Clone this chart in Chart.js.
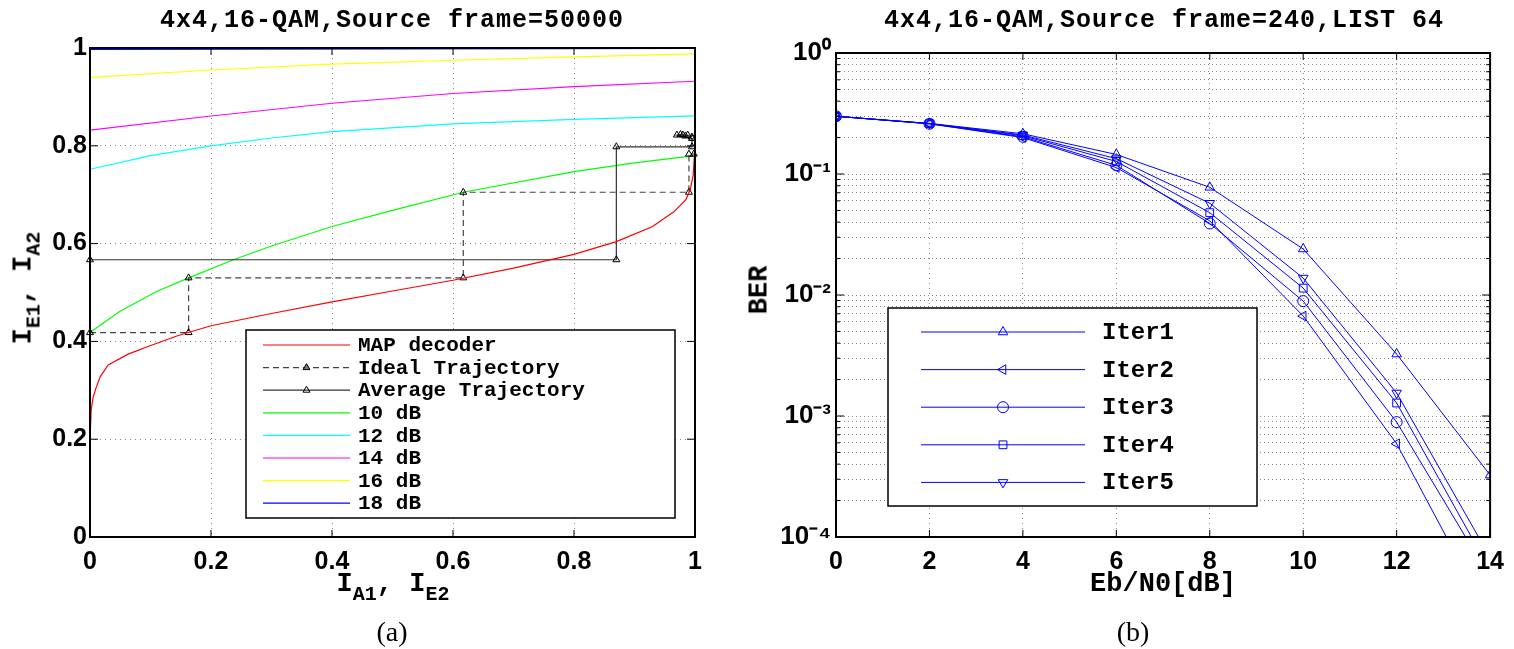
<!DOCTYPE html>
<html>
<head>
<meta charset="utf-8">
<script src="https://cdn.jsdelivr.net/npm/chart.js@4.4.1/dist/chart.umd.min.js"></script>
<style>
  body { margin: 0; background: #fff; width: 1514px; height: 649px; position: relative; overflow: hidden; }
  .wrap { position: absolute; top: 0; width: 757px; height: 600px; }
  .lbl { position: absolute; font-family: 'Liberation Mono', 'DejaVu Sans Mono', monospace; font-weight: bold; color: #000; white-space: nowrap; line-height: 1; }
  .lbl sub { font-size: 20px; vertical-align: -9px; line-height: 0; }
  .title { font-size: 25px; letter-spacing: 1px; transform: translate(-50%, -50%); }
  .axis { font-size: 27px; transform: translate(-50%, -50%); }
  .caption { position: absolute; font-family: 'Liberation Serif', 'DejaVu Serif', serif; font-size: 28px; color: #000; transform: translate(-50%, -50%); }
</style>
</head>
<body>
<div class="wrap" style="left:0"><canvas id="exitChart"></canvas></div>
<div class="wrap" style="left:757px"><canvas id="berChart"></canvas></div>

<div class="lbl title" style="left:392px;top:20px">4x4,16-QAM,Source frame=50000</div>
<div class="lbl title" style="left:1164px;top:20px">4x4,16-QAM,Source frame=240,LIST 64</div>
<div class="lbl axis" style="left:393px;top:584px">I<sub>A1</sub>, I<sub>E2</sub></div>
<div class="lbl axis" style="left:24px;top:288px;transform:translate(-50%,-50%) rotate(-90deg)">I<sub>E1</sub>, I<sub>A2</sub></div>
<div class="lbl axis" style="left:1163px;top:584px">Eb/N0[dB]</div>
<div class="lbl axis" style="left:760px;top:290px;transform:translate(-50%,-50%) rotate(-90deg)">BER</div>
<div class="caption" style="left:392px;top:632px">(a)</div>
<div class="caption" style="left:1133px;top:632px">(b)</div>

<script>
// ---- (a) EXIT chart, points read as [I_A1, I_E1] ----
const exitTicks = [0, 0.2, 0.4, 0.6, 0.8, 1];
const mapDecoder = [[0, 0], [0, 0.2], [0.002, 0.26], [0.005, 0.285], [0.01, 0.305], [0.017, 0.328],
  [0.03, 0.352], [0.063, 0.374], [0.097, 0.39], [0.146, 0.412], [0.2, 0.432], [0.3, 0.457],
  [0.4, 0.481], [0.5, 0.503], [0.6, 0.525], [0.7, 0.55], [0.8, 0.578], [0.87, 0.604], [0.93, 0.635],
  [0.965, 0.665], [0.985, 0.69], [0.992, 0.71], [0.997, 0.74], [0.999, 0.78], [1, 0.85], [1, 1]];
const snr10 = [[0, 0.418], [0.049, 0.461], [0.11, 0.502], [0.163, 0.53], [0.237, 0.567], [0.3, 0.595],
  [0.4, 0.635], [0.5, 0.668], [0.617, 0.705], [0.8, 0.747], [0.9, 0.765], [1, 0.78]];
const snr12 = [[0, 0.752], [0.1, 0.78], [0.2, 0.8], [0.3, 0.816], [0.4, 0.829], [0.6, 0.845], [0.8, 0.854], [1, 0.861]];
const snr14 = [[0, 0.832], [0.2, 0.861], [0.4, 0.887], [0.6, 0.907], [0.8, 0.921], [1, 0.932]];
const snr16 = [[0, 0.94], [0.2, 0.955], [0.4, 0.967], [0.6, 0.975], [0.8, 0.982], [1, 0.988]];
const snr18 = [[0, 0.997], [0.5, 0.998], [1, 0.999]];
const idealTrajectory = [[0, 0.418], [0.163, 0.418], [0.163, 0.53], [0.617, 0.53], [0.617, 0.705],
  [0.99, 0.705], [0.99, 0.783], [0.998, 0.783]];
const averageTrajectory = [[0, 0.567], [0.87, 0.567], [0.87, 0.798], [0.995, 0.798], [0.995, 0.815],
  [0.97, 0.822], [0.976, 0.823], [0.98, 0.822], [0.984, 0.82], [0.988, 0.822], [0.995, 0.818]];

// ---- (b) BER vs Eb/N0 ----
const ebn0 = [0, 2, 4, 6, 8, 10, 12, 14];
const iter1 = [0.30, 0.262, 0.215, 0.145, 0.0776, 0.024, 0.00325, 0.000325];
const iter2 = [0.30, 0.26, 0.200, 0.113, 0.041, 0.0067, 0.00059, 0.000021];
const iter3 = [0.30, 0.26, 0.203, 0.118, 0.039, 0.0089, 0.00089, 0.000046];
const iter4 = [0.30, 0.261, 0.207, 0.127, 0.0479, 0.0114, 0.00128, 0.000053];
const iter5 = [0.30, 0.261, 0.21, 0.134, 0.0573, 0.0138, 0.00155, 0.000068];
const ebn0Ticks = [0, 2, 4, 6, 8, 10, 12, 14];
const berTicks = [1e-4, 1e-3, 1e-2, 1e-1, 1];
const berTickLabels = ['10⁻⁴', '10⁻³', '10⁻²', '10⁻¹', '10⁰'];

const tickFont = { family: "'Liberation Sans', Arial, sans-serif", size: 25, weight: 'bold' };
const monoFont = "bold 21px 'Liberation Mono', monospace";

function toXY(points) {
  return points.map(p => ({ x: p[0], y: p[1] }));
}

function drawMarker(ctx, style, rotation, x, y, r) {
  ctx.beginPath();
  if (style === 'circle') {
    ctx.arc(x, y, r, 0, Math.PI * 2);
  } else if (style === 'rect') {
    const s = r * Math.SQRT1_2;
    ctx.rect(x - s, y - s, 2 * s, 2 * s);
  } else {
    let rad = (rotation || 0) * Math.PI / 180;
    for (let k = 0; k < 3; k++) {
      const px = x + Math.sin(rad) * r, py = y - Math.cos(rad) * r;
      k ? ctx.lineTo(px, py) : ctx.moveTo(px, py);
      rad += Math.PI * 2 / 3;
    }
    ctx.closePath();
  }
  ctx.fill();
  ctx.stroke();
}

// box with inward ticks like matlab, then legend inside the axes
const frame = {
  id: 'frame',
  afterDatasetsDraw(chart) {
    const { ctx, chartArea: a, scales } = chart;
    ctx.save();
    ctx.strokeStyle = '#000';
    ctx.lineWidth = 1;
    scales.x.ticks.forEach((t, i) => {
      const px = scales.x.getPixelForTick(i);
      ctx.beginPath();
      ctx.moveTo(px, a.bottom); ctx.lineTo(px, a.bottom - 7);
      ctx.moveTo(px, a.top); ctx.lineTo(px, a.top + 7);
      ctx.stroke();
    });
    scales.y.ticks.forEach((t, i) => {
      const py = scales.y.getPixelForTick(i);
      const len = t.major === false ? 4 : 8;
      ctx.beginPath();
      ctx.moveTo(a.left, py); ctx.lineTo(a.left + len, py);
      ctx.moveTo(a.right, py); ctx.lineTo(a.right - len, py);
      ctx.stroke();
    });
    ctx.lineWidth = 2;
    ctx.strokeRect(a.left, a.top, a.right - a.left, a.bottom - a.top);
    ctx.restore();
  },
  afterDraw(chart, args, opts) {
    const { ctx, chartArea: a } = chart;
    const lg = opts.legend;
    if (!lg) return;
    const x0 = a.left + lg.left;
    ctx.save();
    ctx.fillStyle = '#fff';
    ctx.fillRect(x0, lg.top, lg.width, lg.height);
    ctx.strokeStyle = '#000';
    ctx.lineWidth = 1.5;
    ctx.strokeRect(x0, lg.top, lg.width, lg.height);
    ctx.font = lg.font;
    ctx.textBaseline = 'middle';
    chart.data.datasets.forEach((ds, i) => {
      const y = lg.firstRow + i * lg.rowStep;
      ctx.strokeStyle = ds.borderColor;
      ctx.lineWidth = ds.borderWidth;
      ctx.setLineDash(ds.borderDash || []);
      ctx.beginPath();
      ctx.moveTo(x0 + lg.lineStart, y);
      ctx.lineTo(x0 + lg.lineEnd, y);
      ctx.stroke();
      ctx.setLineDash([]);
      if (ds.pointRadius > 0) {
        ctx.lineWidth = 1;
        ctx.fillStyle = ds.legendFill || 'rgba(0,0,0,0)';
        ctx.strokeStyle = ds.pointBorderColor || ds.borderColor;
        drawMarker(ctx, ds.pointStyle, ds.pointRotation, x0 + (lg.lineStart + lg.lineEnd) / 2, y, ds.pointRadius);
      }
      ctx.fillStyle = '#000';
      ctx.fillText(ds.label, x0 + lg.textX, y + 1);
    });
    ctx.restore();
  }
};

Chart.register(frame);

function curve(label, points, color) {
  return { label, data: toXY(points), borderColor: color, backgroundColor: color, borderWidth: 1.2, pointRadius: 0, showLine: true, clip: false };
}

function trajectory(label, points, color, dash, fill) {
  return {
    label, data: toXY(points), borderColor: color, borderWidth: 1.2, borderDash: dash, showLine: true, clip: false,
    pointStyle: 'triangle', pointRadius: 4, pointBorderColor: '#000', pointBackgroundColor: 'rgba(255,255,255,0)',
    pointBorderWidth: 1, legendFill: fill
  };
}

new Chart(document.getElementById('exitChart'), {
  type: 'scatter',
  data: {
    datasets: [
      curve('MAP decoder', mapDecoder, '#ff0000'),
      trajectory('Ideal Trajectory', idealTrajectory, '#444', [6, 4], '#777'),
      trajectory('Average Trajectory', averageTrajectory, '#333', [], null),
      curve('10 dB', snr10, '#00ff00'),
      curve('12 dB', snr12, '#00ffff'),
      curve('14 dB', snr14, '#ff00ff'),
      curve('16 dB', snr16, '#ffff00'),
      curve('18 dB', snr18, '#0000ff')
    ]
  },
  options: {
    responsive: true,
    maintainAspectRatio: false,
    animation: false,
    layout: { padding: { top: 48, right: 62, left: 0, bottom: 0 } },
    plugins: {
      legend: { display: false },
      tooltip: { enabled: false },
      frame: { legend: { left: 156, top: 330, width: 429, height: 188, firstRow: 345, rowStep: 22.6,
        lineStart: 17, lineEnd: 104, textX: 112, font: monoFont } }
    },
    scales: {
      x: {
        type: 'linear', min: 0, max: 1,
        afterBuildTicks: s => { s.ticks = exitTicks.map(v => ({ value: v })); },
        afterFit: s => { s.height = 63; },
        ticks: { font: tickFont, color: '#000', padding: 10, maxRotation: 0, autoSkip: false, callback: v => String(v) },
        grid: { color: '#888', drawTicks: false },
        border: { display: false, dash: [1, 4] }
      },
      y: {
        type: 'linear', min: 0, max: 1,
        afterBuildTicks: s => { s.ticks = exitTicks.map(v => ({ value: v })); },
        afterFit: s => { s.width = 90; },
        ticks: { font: tickFont, color: '#000', padding: 3, autoSkip: false, callback: v => String(v) },
        grid: { color: '#888', drawTicks: false },
        border: { display: false, dash: [1, 4] }
      }
    }
  }
});

function iterSet(label, values, style, rotation) {
  return {
    label, data: ebn0.map((x, i) => ({ x, y: values[i] })),
    borderColor: '#0000ff', borderWidth: 1, showLine: true,
    pointStyle: style, pointRotation: rotation, pointRadius: 5.5, pointBorderWidth: 1,
    pointBorderColor: '#0000ff', pointBackgroundColor: 'rgba(0,0,0,0)'
  };
}

new Chart(document.getElementById('berChart'), {
  type: 'scatter',
  data: {
    datasets: [
      iterSet('Iter1', iter1, 'triangle', 0),
      iterSet('Iter2', iter2, 'triangle', -90),
      iterSet('Iter3', iter3, 'circle', 0),
      iterSet('Iter4', iter4, 'rect', 0),
      iterSet('Iter5', iter5, 'triangle', 180)
    ]
  },
  options: {
    responsive: true,
    maintainAspectRatio: false,
    animation: false,
    layout: { padding: { top: 53, right: 22, left: 0, bottom: 0 } },
    plugins: {
      legend: { display: false },
      tooltip: { enabled: false },
      frame: { legend: { left: 52, top: 308, width: 369, height: 198, firstRow: 332, rowStep: 37.6,
        lineStart: 33, lineEnd: 197, textX: 214, font: "bold 24px 'Liberation Mono', monospace" } }
    },
    scales: {
      x: {
        type: 'linear', min: 0, max: 14,
        afterBuildTicks: s => { s.ticks = ebn0Ticks.map(v => ({ value: v })); },
        afterFit: s => { s.height = 63; },
        ticks: { font: tickFont, color: '#000', padding: 10, maxRotation: 0, autoSkip: false },
        grid: { color: '#888', drawTicks: false },
        border: { display: false, dash: [1, 4] }
      },
      y: {
        type: 'logarithmic', min: 1e-4, max: 1,
        afterBuildTicks: s => {
          const ticks = [];
          berTicks.forEach((d, k) => {
            ticks.push({ value: d, major: true });
            if (k < berTicks.length - 1) {
              for (let m = 2; m <= 9; m++) ticks.push({ value: m * d, major: false });
            }
          });
          s.ticks = ticks;
        },
        afterFit: s => { s.width = 79; },
        ticks: {
          font: { family: "'Liberation Sans', Arial, sans-serif", size: 26, weight: 'bold' }, color: '#000', padding: 5, autoSkip: false,
          callback: v => { const i = berTicks.indexOf(v); return i >= 0 ? berTickLabels[i] : ''; }
        },
        grid: { color: '#888', drawTicks: false },
        border: { display: false, dash: [1, 3] }
      }
    }
  }
});
</script>
</body>
</html>
